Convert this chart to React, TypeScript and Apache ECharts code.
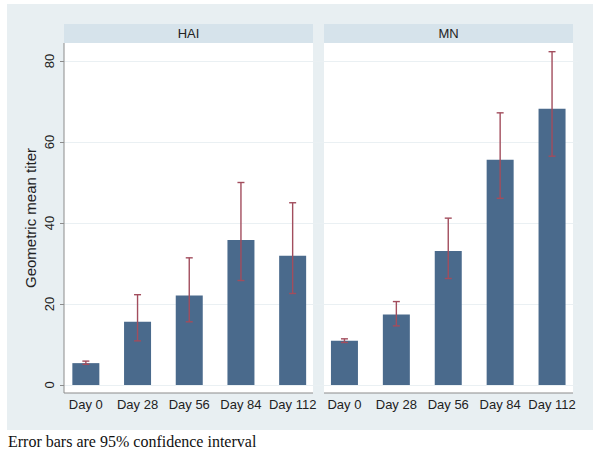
import React, { useEffect, useRef } from "react";
import * as echarts from "echarts";

const categories = ["Day 0", "Day 28", "Day 56", "Day 84", "Day 112"];
const panelTitles = ["HAI", "MN"];
const haiMean = [5.4, 15.6, 22.1, 35.8, 31.9];
const haiLow = [5.1, 10.9, 15.6, 25.8, 22.6];
const haiHigh = [5.9, 22.3, 31.4, 50.0, 45.0];
const mnMean = [10.9, 17.4, 33.1, 55.6, 68.2];
const mnLow = [10.5, 14.6, 26.3, 46.1, 56.5];
const mnHigh = [11.4, 20.6, 41.2, 67.2, 82.3];
const yTicks = [0, 20, 40, 60, 80];
const footnote = "Error bars are 95% confidence interval";
const yTitle = "Geometric mean titer";

const BAR = "#4a6a8c";
const ERR = "#a24d5d";
const BG = "#e8eff2";
const STRIP = "#d6e3eb";
const AXIS = "#8c8c8c";
const GRIDLINE = "#eaf0f3";
const FONT = "'Liberation Sans', Arial, sans-serif";

function errRender(params: any, api: any) {
  const x = api.value(0);
  const lo = api.coord([x, api.value(1)]);
  const hi = api.coord([x, api.value(2)]);
  const hw = 3.5;
  const st = { stroke: ERR, lineWidth: 1.4 };
  return {
    type: "group",
    children: [
      { type: "line", shape: { x1: lo[0], y1: lo[1], x2: hi[0], y2: hi[1] }, style: st },
      { type: "line", shape: { x1: hi[0] - hw, y1: hi[1], x2: hi[0] + hw, y2: hi[1] }, style: st },
      { type: "line", shape: { x1: lo[0] - hw, y1: lo[1], x2: lo[0] + hw, y2: lo[1] }, style: st },
    ],
  };
}

export default function App() {
  const ref = useRef<HTMLDivElement>(null);
  useEffect(() => {
    document.body.style.margin = "0";
    const chart = echarts.init(ref.current!, undefined, { renderer: "svg" });
    const yMax = yTicks[yTicks.length - 1];
    const mkY = (gi: number, labels: boolean) => ({
      type: "value",
      gridIndex: gi,
      min: 0,
      max: yMax,
      interval: 20,
      offset: labels ? -4 : 0,
      axisLine: { show: false },
      axisTick: { show: labels, length: 4, lineStyle: { color: AXIS, width: 1 } },
      axisLabel: {
        show: labels,
        rotate: 90,
        margin: 8,
        fontSize: 13,
        color: "#222",
        fontFamily: FONT,
      },
      splitLine: { show: true, lineStyle: { color: GRIDLINE, width: 1 } },
    });
    const mkX = (gi: number) => ({
      type: "category",
      gridIndex: gi,
      data: categories,
      offset: 8,
      axisLine: { show: false },
      axisTick: { show: false },
      axisLabel: { margin: 5, fontSize: 13, color: "#222", fontFamily: FONT, interval: 0 },
    });
    const plotRects = [
      { x: 64, w: 249 },
      { x: 324, w: 249 },
    ];
    const graphic: any[] = [
      { type: "rect", z: -20, shape: { x: 7, y: 4, width: 586, height: 426 }, style: { fill: BG } },
    ];
    plotRects.forEach((p, i) => {
      graphic.push({ type: "rect", z: -10, shape: { x: p.x, y: 43, width: p.w, height: 350 }, style: { fill: "#ffffff" } });
      graphic.push({ type: "rect", z: -10, shape: { x: p.x, y: 24, width: p.w, height: 19 }, style: { fill: STRIP } });
      graphic.push({
        type: "text",
        z: 10,
        x: p.x + p.w / 2,
        y: 33.5,
        style: { text: panelTitles[i], fontSize: 13, fill: "#222", fontFamily: FONT, align: "center", verticalAlign: "middle" },
      });
      graphic.push({
        type: "line",
        z: 10,
        shape: { x1: p.x, y1: 393, x2: p.x + p.w, y2: 393 },
        style: { stroke: AXIS, lineWidth: 1.2 },
      });
    });
    graphic.push({
      type: "line",
      z: 10,
      shape: { x1: 64, y1: 43, x2: 64, y2: 393 },
      style: { stroke: AXIS, lineWidth: 1 },
    });
    graphic.push({
      type: "text",
      z: 10,
      x: 30,
      y: 218,
      rotation: Math.PI / 2,
      style: { text: yTitle, fontSize: 15, fill: "#222", fontFamily: FONT, align: "center", verticalAlign: "middle" },
    });
    graphic.push({
      type: "text",
      z: 10,
      x: 8,
      y: 441,
      style: { text: footnote, fontSize: 16, fill: "#111", fontFamily: "'Liberation Serif', 'DejaVu Serif', serif", align: "left", verticalAlign: "middle" },
    });

    const errData = (lo: number[], hi: number[]) => categories.map((_, i) => [i, lo[i], hi[i]]);

    chart.setOption({
      animation: false,
      backgroundColor: "#ffffff",
      grid: [
        { left: 60, right: 281.5, top: 61, bottom: 67 },
        { left: 318.5, right: 22, top: 61, bottom: 67 },
      ],
      xAxis: [mkX(0), mkX(1)],
      yAxis: [mkY(0, true), mkY(1, false)],
      graphic,
      series: [
        { type: "bar", xAxisIndex: 0, yAxisIndex: 0, data: haiMean, barWidth: 27, itemStyle: { color: BAR }, z: 2 },
        { type: "bar", xAxisIndex: 1, yAxisIndex: 1, data: mnMean, barWidth: 27, itemStyle: { color: BAR }, z: 2 },
        { type: "custom", xAxisIndex: 0, yAxisIndex: 0, data: errData(haiLow, haiHigh), renderItem: errRender, z: 3, clip: false },
        { type: "custom", xAxisIndex: 1, yAxisIndex: 1, data: errData(mnLow, mnHigh), renderItem: errRender, z: 3, clip: false },
      ],
    });
    return () => chart.dispose();
  }, []);
  return <div ref={ref} style={{ width: 600, height: 452 }} />;
}
